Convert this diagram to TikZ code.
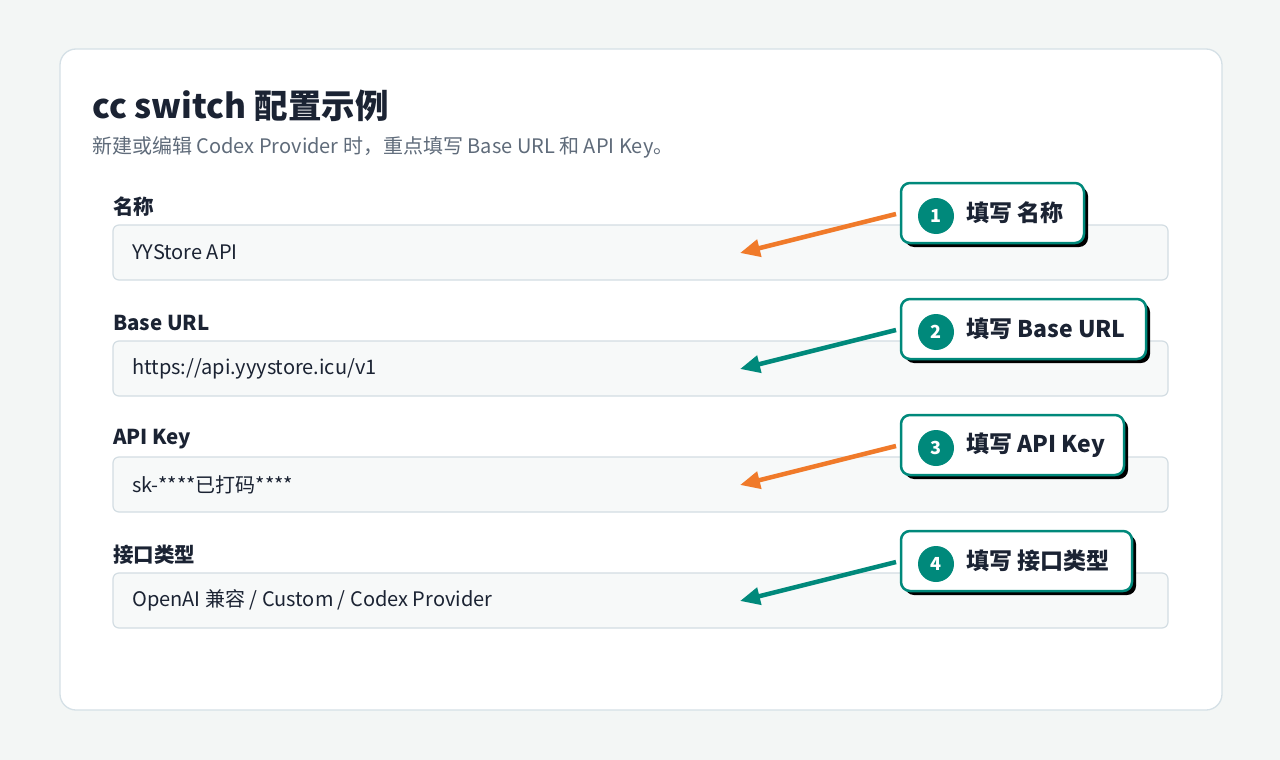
\documentclass[tikz,border=0pt]{standalone}
\usepackage{fontspec}
\setmainfont{Noto Sans CJK SC}
\usetikzlibrary{arrows.meta,shadows}
\definecolor{bg}{HTML}{F3F6F5}
\definecolor{cardline}{HTML}{D5E0E6}
\definecolor{fieldfill}{HTML}{F7F9F9}
\definecolor{fieldline}{HTML}{D3DDE3}
\definecolor{ink}{HTML}{1B2333}
\definecolor{sub}{HTML}{5F6B7A}
\definecolor{teal}{HTML}{00897B}
\definecolor{orng}{HTML}{F07A2A}
\tikzset{
 fieldbox/.style={draw=fieldline,line width=1.2pt,fill=fieldfill,rounded corners=6pt},
 flabel/.style={anchor=west,font=\fontsize{20.5}{24}\selectfont\bfseries,text=ink,inner sep=0},
 ftext/.style={anchor=west,font=\fontsize{20}{23}\selectfont,text=ink,inner sep=0},
 callout/.style={draw=teal,line width=2.5pt,fill=white,rounded corners=9pt,
   drop shadow={shadow xshift=4pt,shadow yshift=-4pt,fill=black,opacity=1}},
 badge/.style={circle,fill=teal,minimum size=36pt,inner sep=0,text=white,font=\fontsize{18}{20}\selectfont\bfseries},
 ctext/.style={anchor=west,font=\fontsize{23}{26}\selectfont\bfseries,text=ink,inner sep=0},
 arr/.style={line width=4.5pt,-{Triangle[length=20pt,width=17pt]}},
}
\begin{document}
\begin{tikzpicture}[x=1pt,y=-1pt]
\fill[bg] (0,0) rectangle (1280,760);
\useasboundingbox (0,0) rectangle (1280,760);
\draw[cardline,line width=1.3pt,fill=white,rounded corners=16pt] (60,49) rectangle (1222,710);
\node[anchor=west,inner sep=0,font=\fontsize{33.5}{36}\selectfont\bfseries,text=ink] (title) at (92,106) {cc switch 配置示例};
\node[anchor=west,inner sep=0,font=\fontsize{20}{22}\selectfont,text=sub] (subt) at (92,147) {新建或编辑 Codex Provider 时，重点填写 Base URL 和 API Key。};
% fields
\foreach \i/\y/\lab/\txt in {1/225/{名称}/{YYStore API},2/341/{Base URL}/{https://api.yyystore.icu/v1},3/457/{API Key}/{sk-****已打码****},4/573/{接口类型}/{OpenAI 兼容 / Custom / Codex Provider}}{
  \draw[fieldbox] (113,\y) rectangle (1168,\y+55);
  \node[flabel] (l\i) at (113,\y-18) {\lab};
  \node[ftext] (t\i) at (132,\y+27.5) {\txt};
  \coordinate (tip\i) at (740,\y+28);
}
% callouts
\foreach \i/\y/\w/\txt in {1/183/1084/{填写 名称},2/299/1146/{填写 Base URL},3/415/1124/{填写 API Key},4/531/1132/{填写 接口类型}}{
  \draw[callout] (901,\y) rectangle (\w,\y+60);
  \node[badge] (b\i) at (936,\y+33) {\i};
  \node[ctext] (c\i) at (966,\y+30) {\txt};
  \coordinate (src\i) at (896,\y+31);
}
\draw[arr,orng] (src1) -- (tip1);
\draw[arr,teal] (src2) -- (tip2);
\draw[arr,orng] (src3) -- (tip3);
\draw[arr,teal] (src4) -- (tip4);
\end{tikzpicture}
\end{document}
